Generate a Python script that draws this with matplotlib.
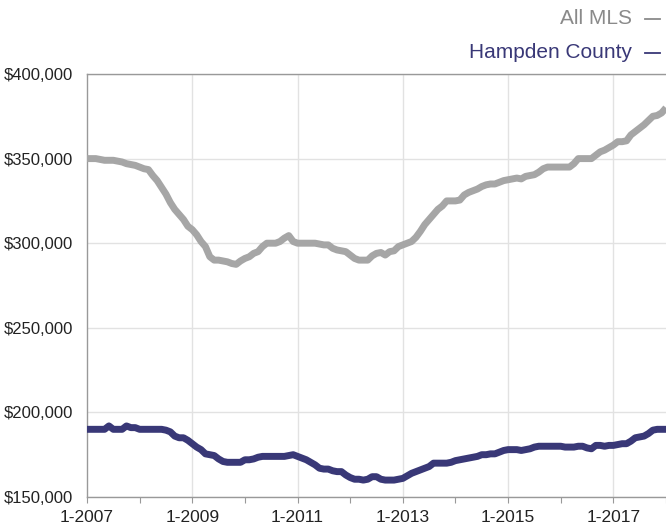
import numpy as np
import matplotlib
matplotlib.use("Agg")
import matplotlib.pyplot as plt
from matplotlib.lines import Line2D
from matplotlib.ticker import FuncFormatter

plt.rcParams['font.family'] = ['Liberation Sans', 'DejaVu Sans']

# monthly median price (in $1000s), Jan 2007 .. Jan 2018
all_mls = [
    350, 350, 350, 349.5, 349, 349, 349, 348.5, 348, 347, 346.5, 346,        # 2007
    345, 344, 343.5, 340, 337, 333, 329, 324, 320, 317, 314, 310,            # 2008
    308, 305, 301, 298, 292, 290, 290, 289.5, 289, 288, 287.5, 289.5,        # 2009
    291, 292, 294, 295, 298, 300, 300, 300, 301, 303, 304.5, 301,            # 2010
    300, 300, 300, 300, 300, 299.5, 299, 299, 297, 296, 295.5, 295,          # 2011
    293, 291, 290, 290, 290, 292.5, 294, 294.5, 293, 295, 295.5, 298,        # 2012
    299, 300, 301, 303.5, 307, 311, 314, 317, 320, 322, 325, 325,            # 2013
    325, 325.5, 328.5, 330, 331, 332, 333.5, 334.5, 335, 335, 336, 337,      # 2014
    337.5, 338, 338.5, 338, 339.5, 340, 340.5, 342, 344, 345, 345, 345,      # 2015
    345, 345, 345, 347, 350, 350, 350, 350, 352, 354, 355, 356.5,            # 2016
    358, 360, 360, 360.5, 364, 366, 368, 370, 372.5, 375, 375.5, 377,        # 2017
    380,                                                                     # 2018
]
hampden = [
    190, 190, 190, 190, 190, 192, 190, 190, 190, 192, 191, 191,              # 2007
    190, 190, 190, 190, 190, 190, 189.5, 188.5, 186, 185, 185, 183.5,        # 2008
    181.5, 179.5, 178, 175.5, 175, 174.5, 172.5, 171, 170.5, 170.5, 170.5, 170.5,  # 2009
    172, 172, 172.5, 173.5, 174, 174, 174, 174, 174, 174, 174.5, 175,        # 2010
    174, 173, 172, 170.5, 169, 167, 166.5, 166.5, 165.5, 165, 165, 163,      # 2011
    161.5, 160.5, 160.5, 160, 160.5, 162, 162, 160.5, 160, 160, 160, 160.5,  # 2012
    161, 162.5, 164, 165, 166, 167, 168, 170, 170, 170, 170, 170.5,          # 2013
    171.5, 172, 172.5, 173, 173.5, 174, 175, 175, 175.5, 175.5, 176.5, 177.5,  # 2014
    178, 178, 178, 177.5, 178, 178.5, 179.5, 180, 180, 180, 180, 180,        # 2015
    180, 179.5, 179.5, 179.5, 180, 180, 179, 178.5, 180.5, 180.5, 180, 180.5,  # 2016
    180.5, 181, 181.5, 181.5, 183, 185, 185.5, 186, 187.5, 189.5, 190, 190,  # 2017
    190,                                                                     # 2018
]
years = list(range(2007, 2019))
tick_labels = ["1-%d" % y if (y - 2007) % 2 == 0 else "" for y in years]

gray = "#a6a6a6"
navy = "#393877"

fig = plt.figure(figsize=(6.66, 5.27), dpi=100)
ax = fig.add_axes([87 / 666, 1 - 497 / 527, 1 - 87 / 666, (497 - 74) / 527])

months = np.arange(len(all_mls))
ax.plot(months, np.array(all_mls) * 1000, color=gray, lw=5, solid_capstyle="butt", zorder=3)
ax.plot(months, np.array(hampden) * 1000, color=navy, lw=5, solid_capstyle="butt", zorder=4)

ax.set_xlim(0, 132)
ax.set_ylim(150000, 400000)
ax.set_yticks(np.arange(150000, 400001, 50000))
ax.yaxis.set_major_formatter(FuncFormatter(lambda v, p: "${:,.0f}".format(v)))

ax.set_xticks([12 * (y - 2007) for y in years])
ax.set_xticklabels(tick_labels)

# gridlines: horizontal every 50k, vertical every 2 years
ax.grid(axis="y", color="#e2e2e2", lw=1, zorder=0)
for y in years:
    if (y - 2007) % 2 == 0 and y > 2007:
        ax.axvline(12 * (y - 2007), color="#e2e2e2", lw=1, zorder=0)

for s in ["left", "top", "bottom"]:
    ax.spines[s].set_color("#999999")
    ax.spines[s].set_linewidth(1)
ax.spines["right"].set_visible(False)

ax.tick_params(axis="x", length=4, color="#999999", labelsize=12.5, pad=5, labelcolor="#222222")
ax.tick_params(axis="y", length=0, labelsize=12, pad=10, labelcolor="#222222")

# legend at top right
fig.text(632 / 666, 1 - 18 / 527, "All MLS", ha="right", va="center", fontsize=15, color="#8a8a8a")
fig.text(632 / 666, 1 - 52 / 527, "Hampden County", ha="right", va="center", fontsize=15, color=navy)
fig.add_artist(Line2D([645 / 666, 660 / 666], [1 - 19 / 527, 1 - 19 / 527], color="#8a8a8a", lw=1.3))
fig.add_artist(Line2D([645 / 666, 660 / 666], [1 - 53 / 527, 1 - 53 / 527], color=navy, lw=1.3))

fig.savefig("out.png", dpi=100)
